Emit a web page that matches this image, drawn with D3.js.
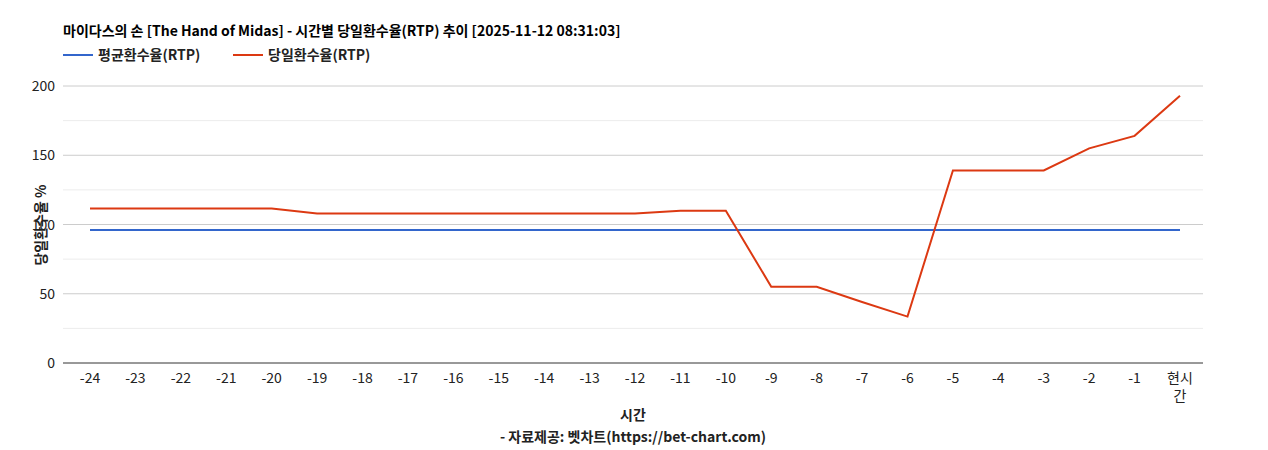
<!DOCTYPE html>
<html><head><meta charset="utf-8">
<script src="https://cdn.jsdelivr.net/npm/d3@7"></script>
<style>body{margin:0;background:#fff;font-family:"Noto Sans CJK KR","Noto Sans",Arial,sans-serif}</style>
</head><body><svg id="c" width="1268" height="450"></svg>
<script>
const categories=["-24","-23","-22","-21","-20","-19","-18","-17","-16","-15","-14","-13","-12","-11","-10","-9","-8","-7","-6","-5","-4","-3","-2","-1","현시간"];
const avgRTP=[96,96,96,96,96,96,96,96,96,96,96,96,96,96,96,96,96,96,96,96,96,96,96,96,96];
const dailyRTP=[111.5,111.5,111.5,111.5,111.5,108,108,108,108,108,108,108,108,110,110,55,55,44,33.5,139,139,139,155,164,193];
const yTicks=[0,50,100,150,200];
const minorTicks=[25,75,125,175];

const svg=d3.select("#c");
const L=63,R=1203,T=86,B=363;
const x=d3.scalePoint().domain(categories).range([L+27,R-23]);
const y=d3.scaleLinear().domain([0,200]).range([B,T]);
const ff='"Noto Sans CJK KR","Noto Sans",Arial,sans-serif';

svg.selectAll(".mg").data(minorTicks).join("line").attr("x1",L).attr("x2",R)
 .attr("y1",d=>y(d)).attr("y2",d=>y(d)).attr("stroke","#ececec");
svg.selectAll(".g").data(yTicks.slice(1)).join("line").attr("x1",L).attr("x2",R)
 .attr("y1",d=>y(d)).attr("y2",d=>y(d)).attr("stroke","#cccccc");
svg.append("line").attr("x1",L).attr("x2",R).attr("y1",B).attr("y2",B).attr("stroke","#333");

svg.selectAll(".yt").data(yTicks).join("text").attr("x",L-8).attr("y",d=>y(d)+5)
 .attr("text-anchor","end").attr("font-size",14).attr("font-family",ff).attr("fill","#222").text(d=>d);

categories.forEach(c=>{
  const t=svg.append("text").attr("x",x(c)).attr("text-anchor","middle").attr("font-size",14).attr("font-family",ff).attr("fill","#222");
  if(c==="현시간"){t.append("tspan").attr("x",x(c)).attr("y",383).text("현시");t.append("tspan").attr("x",x(c)).attr("y",401).text("간");}
  else t.attr("y",383).text(c);
});

const line=d3.line().x((d,i)=>x(categories[i])).y(d=>y(d));
svg.append("path").datum(avgRTP).attr("d",line).attr("fill","none").attr("stroke","#3366cc").attr("stroke-width",2);
svg.append("path").datum(dailyRTP).attr("d",line).attr("fill","none").attr("stroke","#dc3912").attr("stroke-width",2);

svg.append("text").attr("x",63).attr("y",36).attr("font-size",14).attr("font-weight","bold").attr("font-family",ff).attr("fill","#000")
 .text("마이다스의 손 [The Hand of Midas] - 시간별 당일환수율(RTP) 추이 [2025-11-12 08:31:03]");
const leg=[["평균환수율(RTP)","#3366cc",63],["당일환수율(RTP)","#dc3912",233]];
leg.forEach(([t,c,lx])=>{
  svg.append("line").attr("x1",lx).attr("x2",lx+30).attr("y1",55).attr("y2",55).attr("stroke",c).attr("stroke-width",2);
  svg.append("text").attr("x",lx+35).attr("y",60).attr("font-size",14).attr("font-weight","bold").attr("font-family",ff).attr("fill","#222").text(t);
});
svg.append("text").attr("transform","translate(46,225) rotate(-90)").attr("text-anchor","middle").attr("font-size",14).attr("font-weight","bold").attr("font-family",ff).attr("fill","#222").text("당일환수율 %");
svg.append("text").attr("x",633).attr("y",420).attr("text-anchor","middle").attr("font-size",14).attr("font-weight","bold").attr("font-family",ff).attr("fill","#222").text("시간");
svg.append("text").attr("x",633).attr("y",442).attr("text-anchor","middle").attr("font-size",14).attr("font-weight","bold").attr("font-family",ff).attr("fill","#222").text("- 자료제공: 벳차트(https://bet-chart.com)");
</script></body></html>
